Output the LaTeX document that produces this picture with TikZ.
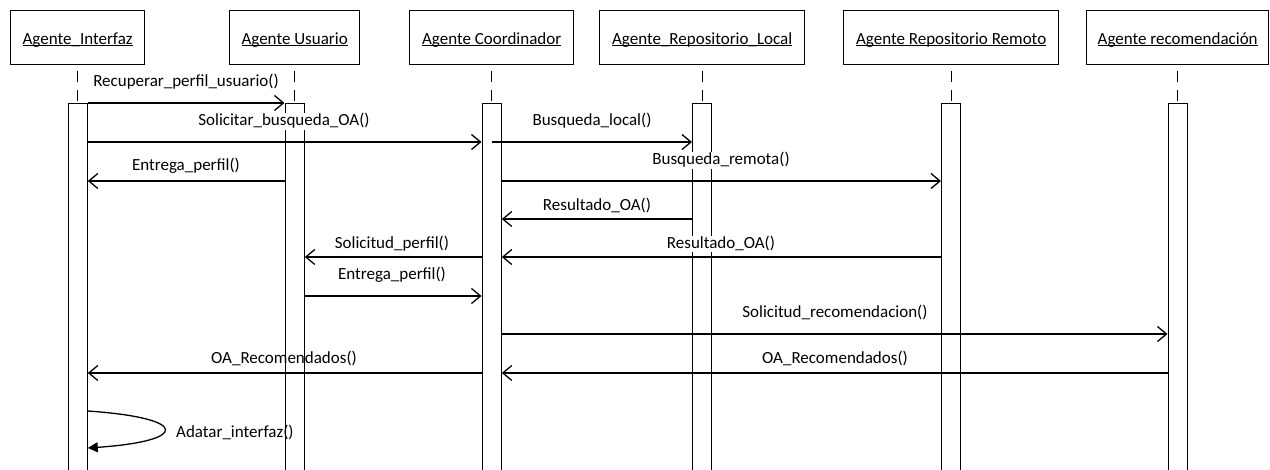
\documentclass[tikz,border=0pt]{standalone}
\usepackage{fontspec}
\setmainfont{Carlito}
\usetikzlibrary{arrows.meta,calc}
\newcommand\ulx[1]{\setbox0\hbox{#1}\rlap{\rule[-1.6pt]{\wd0}{0.9pt}}\box0}
\begin{document}
\begin{tikzpicture}[x=1pt,y=-1pt,
  every node/.style={font=\fontsize{17}{20}\selectfont},
  head/.style={draw, line width=1.3pt, minimum height=54pt, anchor=north west, inner sep=0pt, text height=15pt, text depth=1pt},
  bar/.style={draw, line width=1.3pt, minimum width=19pt, minimum height=380pt, anchor=north, inner sep=0pt},
  life/.style={line width=1.3pt, dash pattern=on 11pt off 8pt, shorten <=6pt},
  msg/.style={line width=1.3pt, -{Straight Barb[length=9pt,width=15pt,line width=1.3pt]}},
  selfmsg/.style={line width=1.3pt, -{Triangle[length=10pt,width=10pt]}},
  lbl/.style={fill=white, inner sep=1pt, anchor=base},
  lblt/.style={inner sep=1pt, anchor=base},
]
\useasboundingbox (0,0) rectangle (1270,470);
\clip (0,0) rectangle (1270,470);
% heads
\node[head, minimum width=134pt] (hI) at (10,10) {\ulx{Agente\_Interfaz}};
\node[head, minimum width=130pt] (hU) at (229,10) {\ulx{Agente Usuario}};
\node[head, minimum width=164pt] (hC) at (409,10) {\ulx{Agente Coordinador}};
\node[head, minimum width=205pt] (hL) at (599,10) {\ulx{Agente\_Repositorio\_Local}};
\node[head, minimum width=215pt] (hR) at (843,10) {\ulx{Agente Repositorio Remoto}};
\node[head, minimum width=182pt] (hRec) at (1086,10) {\ulx{Agente recomendación}};
% bars
\coordinate (top) at (0,103);
\node[bar] (bI) at (hI.center |- top) {};
\node[bar] (bU) at (hU.center |- top) {};
\node[bar] (bC) at (hC.center |- top) {};
\node[bar] (bL) at (hL.center |- top) {};
\node[bar] (bR) at (hR.center |- top) {};
\node[bar] (bRec) at (hRec.center |- top) {};
% lifelines
\foreach \h/\b in {hI/bI,hU/bU,hC/bC,hL/bL,hR/bR,hRec/bRec}
  \draw[life] (\h.south) -- (\b.north);
% non-filled labels (behind bars' lines)
\node[lblt] (l12) at (284,364) {OA\_Recomendados()};
\node[lblt, anchor=base west] (l13) at (175,437) {Adatar\_interfaz()};
\node[lblt] (l11) at (835,364) {OA\_Recomendados()};
% message levels
\coordinate (m1) at (0,103);
\coordinate (m2) at (0,142);
\coordinate (m4) at (0,181);
\coordinate (m6) at (0,219);
\coordinate (m7) at (0,257);
\coordinate (m9) at (0,296);
\coordinate (m10) at (0,334);
\coordinate (m11) at (0,373);
\coordinate (m13a) at (0,411);
\coordinate (m13b) at (0,448);
% messages
\draw[msg] (bI.east |- m1) -- (bU.west |- m1);
\draw[msg] (bI.east |- m2) -- (bC.west |- m2);
\draw[msg] (bC.center |- m2) -- (bL.west |- m2);
\draw[msg] (bU.west |- m4) -- (bI.east |- m4);
\draw[msg] (bC.east |- m4) -- (bR.west |- m4);
\draw[msg] (bL.west |- m6) -- (bC.east |- m6);
\draw[msg] (bR.west |- m7) -- (bC.east |- m7);
\draw[msg] (bC.west |- m7) -- (bU.east |- m7);
\draw[msg] (bU.east |- m9) -- (bC.west |- m9);
\draw[msg] (bC.east |- m10) -- (bRec.west |- m10);
\draw[msg] (bRec.west |- m11) -- (bC.east |- m11);
\draw[msg] (bC.west |- m11) -- (bI.east |- m11);
\draw[selfmsg] (bI.east |- m13a) .. controls +(102,7) and +(102,-7) .. (bI.east |- m13b);
% filled labels
\node[lbl] (l1) at (186,87) {Recuperar\_perfil\_usuario()};
\node[lbl] (l2) at (284,126) {Solicitar\_busqueda\_OA()};
\node[lbl] (l3) at (592,126) {Busqueda\_local()};
\node[lbl] (l4) at (186,171) {Entrega\_perfil()};
\node[lbl] (l5) at (721,165) {Busqueda\_remota()};
\node[lbl] (l6) at (597,211) {Resultado\_OA()};
\node[lbl] (l7) at (721,249) {Resultado\_OA()};
\node[lbl] (l8) at (392,249) {Solicitud\_perfil()};
\node[lbl] (l9) at (392,280) {Entrega\_perfil()};
\node[lbl] (l10) at (835,318) {Solicitud\_recomendacion()};
\end{tikzpicture}
\end{document}
